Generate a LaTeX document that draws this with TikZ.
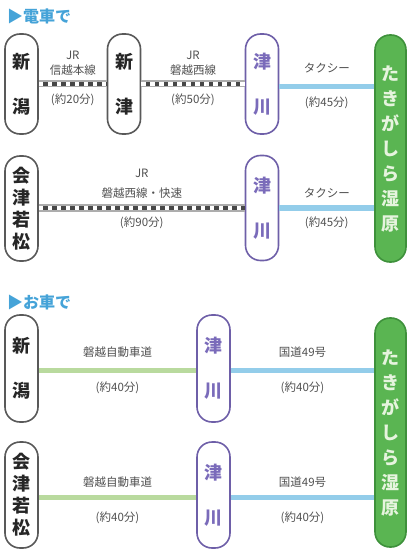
\documentclass[tikz,border=0pt]{standalone}
\usepackage{fontspec}
\newfontfamily\jp{Noto Sans CJK JP}
\definecolor{ttl}{HTML}{45A3D8}
\definecolor{purp}{HTML}{6E5FA8}
\definecolor{purptx}{HTML}{7A6BBA}
\definecolor{grn}{HTML}{5AB552}
\definecolor{grnd}{HTML}{3E913B}
\definecolor{grntx}{HTML}{E6F4DE}
\definecolor{sky}{HTML}{93CDEA}
\definecolor{road}{HTML}{B9DA9E}
\definecolor{lbl}{HTML}{505050}
\begin{document}
\begin{tikzpicture}[x=1bp,y=-1bp,
  pill/.style={line width=1.6bp, fill=white, rounded corners=15bp, minimum width=33bp, inner sep=0pt, align=center},
  station/.style={pill, draw=black!65, text=black!85, font=\jp\bfseries\fontsize{18bp}{45bp}\selectfont},
  station4/.style={pill, draw=black!65, text=black!85, font=\jp\bfseries\fontsize{18bp}{22bp}\selectfont},
  tsugawa/.style={pill, draw=purp, text=purptx, font=\jp\bfseries\fontsize{18bp}{45bp}\selectfont},
  dest/.style={draw=grnd, line width=1.6bp, fill=grn, rounded corners=15bp, minimum width=31bp, inner sep=0pt, align=center, text=grntx, font=\jp\bfseries\fontsize{18bp}{25bp}\selectfont},
  rail/.style={draw=black!72, line width=4bp, preaction={draw=black!32, line width=7bp}, postaction={draw=white, line width=4bp, dash pattern=on 4.5bp off 4.5bp}},
  taxi/.style={draw=sky, line width=5bp},
  hwy/.style={draw=road, line width=5bp},
  lab/.style={text=lbl, font=\jp\fontsize{11.5bp}{13bp}\selectfont, inner sep=0pt},
  title/.style={text=ttl, font=\jp\bfseries\fontsize{16bp}{18bp}\selectfont, anchor=west, inner sep=0pt}
]
\useasboundingbox (0,0) rectangle (410,550);

% titles
\node[title] (t-train) at (7,16) {▶電車で};
\node[title] (t-car) at (7,302) {▶お車で};

% destination
\node[dest, minimum height=227bp] (g1) at (390.5,148.5) {た\\き\\が\\し\\ら\\湿\\原};
\node[dest, minimum height=229bp] (g2) at (390.5,432.5) {た\\き\\が\\し\\ら\\湿\\原};

% row 1
\node[station, minimum height=100bp] (n1) at (21.5,84) {新\\潟};
\node[station, minimum height=100bp] (n2) at (124,84) {新\\津};
\node[tsugawa, minimum height=100bp] (k1) at (262,84) {津\\川};
% row 2
\node[station4, minimum height=105bp] (a1) at (21.5,208.5) {会\\津\\若\\松};
\node[tsugawa, minimum height=105bp] (k2) at (262,208) {津\\川};
% row 3
\node[station, minimum height=107bp] (n3) at (21.5,368.5) {新\\潟};
\node[tsugawa, minimum height=107bp] (k3) at (213.5,368.5) {津\\川};
% row 4
\node[station4, minimum height=106bp] (a2) at (21.5,495) {会\\津\\若\\松};
\node[tsugawa, minimum height=106bp] (k4) at (213.5,495) {津\\川};

% levels
\coordinate (y1) at (0,84);
\coordinate (y1t) at (0,87);
\coordinate (y2) at (0,208);
\coordinate (y3) at (0,370);
\coordinate (y4) at (0,497);

% row 1 connectors
\draw[rail] (n1.east |- y1) -- node[lab, yshift=29bp] (l1a) {JR} node[lab, yshift=14bp] (l1b) {信越本線} node[lab, yshift=-16bp] (l1c) {(約20分)} (n2.west |- y1);
\draw[rail] (n2.east |- y1) -- node[lab, yshift=29bp] (l2a) {JR} node[lab, yshift=14bp] (l2b) {磐越西線} node[lab, yshift=-16bp] (l2c) {(約50分)} (k1.west |- y1);
\draw[taxi] (k1.east |- y1t) -- node[lab, yshift=19bp] (l3a) {タクシー} node[lab, yshift=-16bp] (l3b) {(約45分)} (g1.west |- y1t);

% row 2 connectors
\draw[rail] (a1.east |- y2) -- node[lab, yshift=35bp] (l4a) {JR} node[lab, yshift=15bp] (l4b) {磐越西線・快速} node[lab, yshift=-15bp] (l4c) {(約90分)} (k2.west |- y2);
\draw[taxi] (k2.east |- y2) -- node[lab, yshift=15bp] (l5a) {タクシー} node[lab, yshift=-15bp] (l5b) {(約45分)} (g1.west |- y2);

% row 3 connectors
\draw[hwy] (n3.east |- y3) -- node[lab, yshift=18bp] (l6a) {磐越自動車道} node[lab, yshift=-18bp] (l6b) {(約40分)} (k3.west |- y3);
\draw[taxi] (k3.east |- y3) -- node[lab, yshift=18bp] (l7a) {国道49号} node[lab, yshift=-18bp] (l7b) {(約40分)} (g2.west |- y3);

% row 4 connectors
\draw[hwy] (a2.east |- y4) -- node[lab, yshift=15bp] (l8a) {磐越自動車道} node[lab, yshift=-21bp] (l8b) {(約40分)} (k4.west |- y4);
\draw[taxi] (k4.east |- y4) -- node[lab, yshift=15bp] (l9a) {国道49号} node[lab, yshift=-21bp] (l9b) {(約40分)} (g2.west |- y4);
\end{tikzpicture}
\end{document}
